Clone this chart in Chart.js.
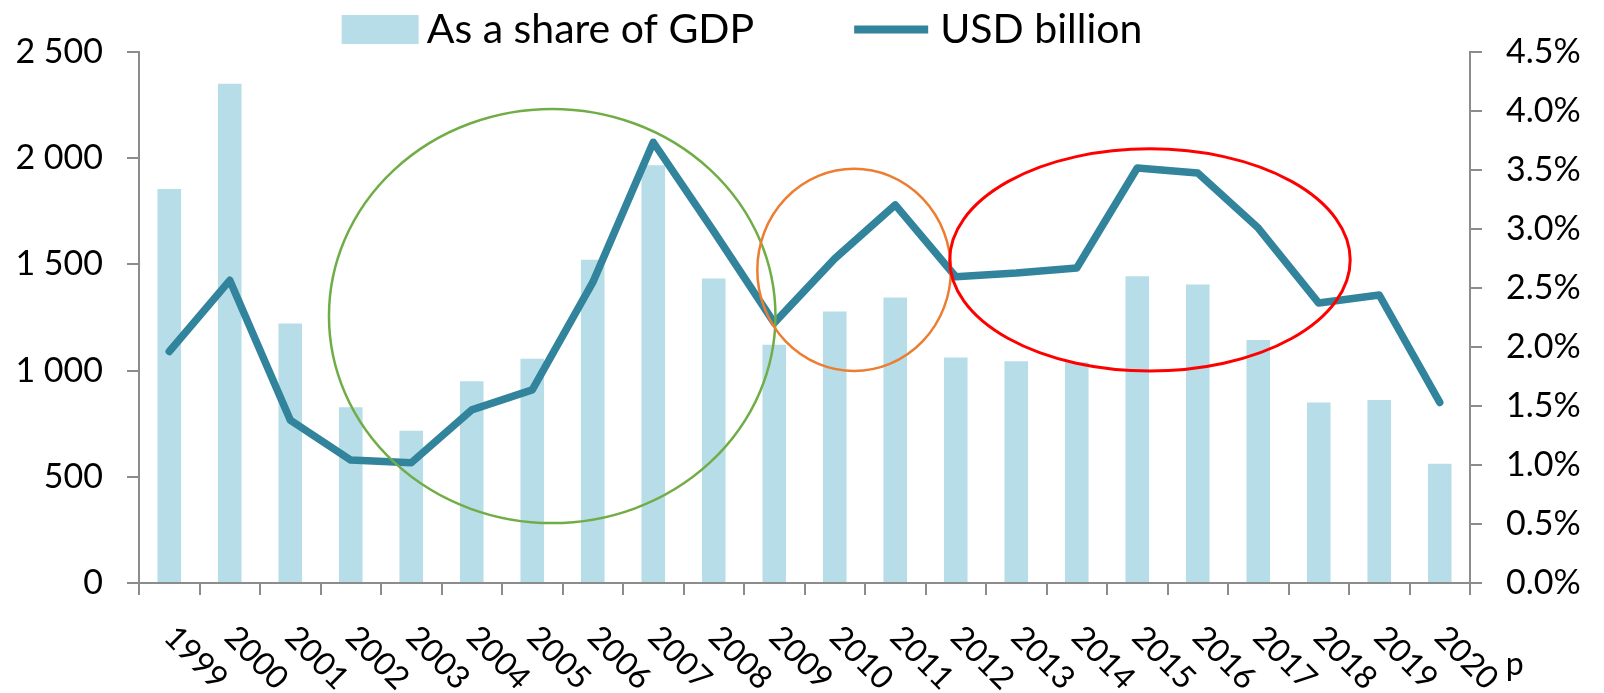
<!DOCTYPE html>
<html>
<head>
<meta charset="utf-8">
<script src="https://cdn.jsdelivr.net/npm/chart.js@4.4.1/dist/chart.umd.min.js"></script>
<style>
  html, body { margin: 0; padding: 0; background: #fff; }
  #wrap { width: 1604px; height: 693px; }
</style>
</head>
<body>
<div id="wrap"><canvas id="grafico"></canvas></div>
<script>
  // datos
  const anios = ['1999','2000','2001','2002','2003','2004','2005','2006','2007','2008','2009','2010',
                 '2011','2012','2013','2014','2015','2016','2017','2018','2019','2020'];
  const usdMilMillones = [1090, 1425, 767, 579, 566, 815, 909, 1415, 2075, 1655, 1225, 1527,
                          1780, 1442, 1459, 1483, 1954, 1930, 1671, 1318, 1356, 850];
  const partePIB = [3.34, 4.23, 2.20, 1.49, 1.29, 1.71, 1.90, 2.74, 3.54, 2.58, 2.02, 2.30,
                    2.42, 1.91, 1.88, 1.87, 2.60, 2.53, 2.06, 1.53, 1.55, 1.01];
  const ticksUSD = [0, 500, 1000, 1500, 2000, 2500];
  const ticksPct = [0, 0.5, 1, 1.5, 2, 2.5, 3, 3.5, 4, 4.5];
  // circulos marcados (centro en indice de categoria / valor USD, radios en las mismas unidades)
  const circulos = [
    { cx: 6.33, cy: 1257, rx: 3.69, ry: 975, color: '#70AD47', ancho: 2.5 },
    { cx: 11.32, cy: 1474, rx: 1.60, ry: 476, color: '#ED7D31', ancho: 2.5 },
    { cx: 16.21, cy: 1521, rx: 3.31, ry: 523, color: '#FF0000', ancho: 3 }
  ];

  const FUENTE = 'Lato';
  const colorBarra = '#B7DEE8';
  const colorLinea = '#31849B';
  const colorEje = '#8c8c8c';

  function conEspacio(v) {
    return String(v).replace(/\B(?=(\d{3})+(?!\d))/g, ' ');
  }

  /* ------------------ PLUGINS ------------------ */
  const pluginCirculos = {
    id: 'circulos',
    afterDatasetsDraw(chart) {
      const ctx = chart.ctx;
      const x = chart.scales.x, y = chart.scales.y;
      circulos.forEach(c => {
        const px = x.getPixelForValue(c.cx);
        const py = y.getPixelForValue(c.cy);
        const rx = Math.abs(x.getPixelForValue(c.cx + c.rx) - px);
        const ry = Math.abs(y.getPixelForValue(c.cy + c.ry) - py);
        ctx.save();
        ctx.beginPath();
        ctx.ellipse(px, py, rx, ry, 0, 0, Math.PI * 2);
        ctx.strokeStyle = c.color;
        ctx.lineWidth = c.ancho;
        ctx.stroke();
        ctx.restore();
      });
    }
  };

  // etiquetas del eje x giradas hacia abajo (sentido horario)
  const pluginEtiquetas = {
    id: 'etiquetasX',
    afterDraw(chart) {
      const ctx = chart.ctx;
      const x = chart.scales.x;
      const ang = 45 * Math.PI / 180;
      ctx.save();
      ctx.font = '32px ' + FUENTE;
      ctx.fillStyle = '#000';
      ctx.textAlign = 'left';
      ctx.textBaseline = 'alphabetic';
      anios.forEach((a, i) => {
        const px = x.getPixelForTick(i) - 7;
        const py = x.top + 56;
        ctx.save();
        ctx.translate(px, py);
        ctx.rotate(ang);
        ctx.fillText(a, 0, 0);
        ctx.restore();
      });
      // la "p" de 2020 (provisional)
      const ult = x.getPixelForTick(anios.length - 1);
      ctx.fillText('p', ult + 66, x.top + 92);
      ctx.restore();
    }
  };

  const pluginLeyenda = {
    id: 'leyendaPropia',
    afterDraw(chart) {
      const ctx = chart.ctx;
      const ds = chart.data.datasets;
      ctx.save();
      ctx.font = '41px ' + FUENTE;
      const w1 = ctx.measureText(ds[0].label).width;
      const w2 = ctx.measureText(ds[1].label).width;
      const total = 77 + 8 + w1 + 100 + 74 + 12 + w2;
      let cx = 742 - total / 2;
      const base = 43;
      ctx.fillStyle = ds[0].backgroundColor;
      ctx.fillRect(cx, 15, 77, 29);
      cx += 77 + 8;
      ctx.fillStyle = '#000';
      ctx.fillText(ds[0].label, cx, base);
      cx += w1 + 100;
      ctx.strokeStyle = ds[1].borderColor;
      ctx.lineWidth = 8;
      ctx.beginPath();
      ctx.moveTo(cx, 29.5);
      ctx.lineTo(cx + 74, 29.5);
      ctx.stroke();
      cx += 74 + 12;
      ctx.fillText(ds[1].label, cx, base);
      ctx.restore();
    }
  };

  /* ------------------ GRAFICO ------------------ */
  const ctxGrafico = document.getElementById('grafico').getContext('2d');

  const datos = {
    labels: anios,
    datasets: [
      {
        type: 'bar',
        label: 'As a share of GDP',
        data: partePIB,
        backgroundColor: colorBarra,
        yAxisID: 'y1',
        categoryPercentage: 1,
        barPercentage: 0.39,
        order: 2
      },
      {
        type: 'line',
        label: 'USD billion',
        data: usdMilMillones,
        borderColor: colorLinea,
        backgroundColor: colorLinea,
        borderWidth: 7.5,
        pointRadius: 0,
        tension: 0,
        borderCapStyle: 'round',
        borderJoinStyle: 'round',
        yAxisID: 'y',
        order: 1
      }
    ]
  };

  const gridEje = { drawOnChartArea: false, drawTicks: true, tickLength: 12, color: colorEje, lineWidth: 2 };
  const bordeEje = { display: true, color: colorEje, width: 2 };

  const config = {
    type: 'bar',
    data: datos,
    options: {
      responsive: true,
      maintainAspectRatio: false,
      animation: false,
      layout: { padding: { left: 0, right: 0, top: 52, bottom: 0 } },
      plugins: { legend: { display: false }, tooltip: { enabled: false } },
      scales: {
        x: {
          offset: true,
          grid: Object.assign({ offset: true }, gridEje),
          border: bordeEje,
          ticks: { display: false },
          afterFit: s => { s.height = 110; }
        },
        y: {
          position: 'left',
          min: 0, max: 2500,
          afterBuildTicks: s => { s.ticks = ticksUSD.map(v => ({ value: v })); },
          afterFit: s => { s.width = 139; },
          grid: gridEje,
          border: bordeEje,
          ticks: { font: { family: FUENTE, size: 34 }, color: '#000', padding: 24, callback: v => conEspacio(v) }
        },
        y1: {
          position: 'right',
          min: 0, max: 4.5,
          afterBuildTicks: s => { s.ticks = ticksPct.map(v => ({ value: v })); },
          afterFit: s => { s.width = 134; },
          grid: gridEje,
          border: bordeEje,
          ticks: { font: { family: FUENTE, size: 34 }, color: '#000', padding: 24, callback: v => v.toFixed(1) + '%' }
        }
      }
    },
    plugins: [pluginCirculos, pluginEtiquetas, pluginLeyenda]
  };

  const grafico = new Chart(ctxGrafico, config);
</script>
</body>
</html>
